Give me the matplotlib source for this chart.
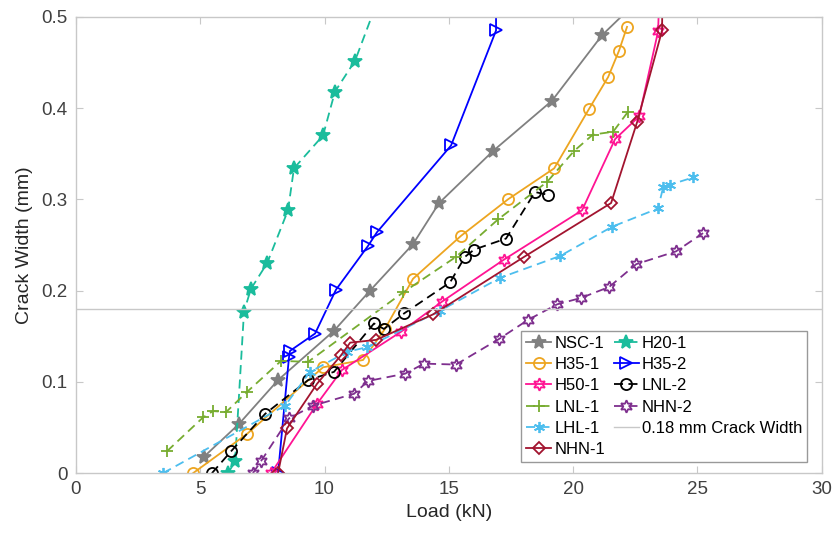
import matplotlib
matplotlib.use("Agg")
import matplotlib.pyplot as plt
import numpy as np

plt.rcParams['font.family'] = ['Liberation Sans', 'DejaVu Sans']

# load (kN) / crack width (mm)
nsc1_x = [5.15, 6.56, 8.13, 10.38, 11.83, 13.56, 14.61, 16.78, 19.15, 21.17, 22.5]
nsc1_y = [0.018, 0.054, 0.102, 0.156, 0.200, 0.251, 0.296, 0.353, 0.408, 0.480, 0.515]

h20_x = [6.12, 6.40, 6.76, 7.04, 7.69, 8.53, 8.77, 9.94, 10.42, 11.23, 12.1]
h20_y = [0.0, 0.013, 0.177, 0.202, 0.230, 0.288, 0.334, 0.370, 0.418, 0.452, 0.515]

h351_x = [4.71, 6.88, 9.94, 11.55, 12.43, 13.56, 15.49, 17.38, 19.24, 20.64, 21.41, 21.85, 22.17]
h351_y = [0.0, 0.043, 0.116, 0.124, 0.158, 0.213, 0.260, 0.300, 0.334, 0.399, 0.434, 0.463, 0.489]

h352_x = [8.13, 8.57, 8.61, 9.62, 10.46, 11.75, 12.11, 15.09, 16.90, 16.90]
h352_y = [0.0, 0.127, 0.134, 0.153, 0.201, 0.249, 0.264, 0.359, 0.485, 0.55]

h50_x = [7.85, 9.70, 10.70, 13.08, 14.73, 17.22, 20.36, 21.69, 22.66, 23.42, 23.5]
h50_y = [0.0, 0.076, 0.113, 0.155, 0.188, 0.234, 0.288, 0.366, 0.391, 0.484, 0.55]

lnl2_x = [5.47, 6.24, 7.61, 9.34, 10.38, 11.99, 12.39, 13.20, 15.05, 15.65, 16.02, 17.30, 18.47, 18.99]
lnl2_y = [0.0, 0.024, 0.065, 0.102, 0.111, 0.164, 0.158, 0.175, 0.209, 0.237, 0.245, 0.257, 0.308, 0.305]

lnl1_x = [3.66, 5.11, 5.51, 6.04, 6.88, 8.25, 9.34, 13.16, 15.29, 16.98, 18.95, 20.04, 20.80, 21.61, 22.21]
lnl1_y = [0.024, 0.061, 0.068, 0.067, 0.089, 0.123, 0.122, 0.198, 0.237, 0.278, 0.319, 0.353, 0.371, 0.374, 0.396]

nhn2_x = [7.12, 7.44, 8.57, 9.54, 11.19, 11.75, 13.24, 14.00, 15.29, 17.02, 18.19, 19.36, 20.32, 21.45,
          22.54, 24.14, 25.23]
nhn2_y = [0.0, 0.013, 0.060, 0.074, 0.087, 0.101, 0.109, 0.120, 0.119, 0.147, 0.168, 0.185, 0.192, 0.204,
          0.229, 0.243, 0.263]

lhl1_x = [3.50, 8.41, 9.42, 10.91, 11.71, 14.65, 17.06, 19.48, 21.57, 23.42, 23.62, 23.90, 24.83]
lhl1_y = [0.0, 0.074, 0.111, 0.133, 0.138, 0.178, 0.214, 0.238, 0.270, 0.290, 0.313, 0.316, 0.324]

nhn1_x = [8.13, 8.49, 9.70, 10.66, 11.03, 12.07, 14.37, 18.03, 21.53, 22.58, 23.58, 23.6]
nhn1_y = [0.0, 0.049, 0.098, 0.129, 0.143, 0.146, 0.174, 0.237, 0.296, 0.385, 0.485, 0.55]

crack_limit = 0.18

hexa = (6, 1, 0)
aster = (6, 2, 0)

series = [
    # label, x, y, color, marker, linestyle, ms, filled
    ("NSC-1", nsc1_x, nsc1_y, "#808080", "*", "-", 10, True),
    ("H20-1", h20_x, h20_y, "#1ABC9C", "*", "--", 10, True),
    ("H35-1", h351_x, h351_y, "#EDA520", "o", "-", 8, False),
    ("H35-2", h352_x, h352_y, "#0000FF", ">", "-", 8, False),
    ("H50-1", h50_x, h50_y, "#FF1493", hexa, "-", 9, False),
    ("LNL-2", lnl2_x, lnl2_y, "#000000", "o", "--", 8, False),
    ("LNL-1", lnl1_x, lnl1_y, "#77AC30", "+", "--", 9, False),
    ("NHN-2", nhn2_x, nhn2_y, "#7E2F8E", hexa, "--", 9, False),
    ("LHL-1", lhl1_x, lhl1_y, "#4DBEEE", aster, "--", 8, False),
    ("NHN-1", nhn1_x, nhn1_y, "#A2142F", "D", "-", 6.5, False),
]

fig = plt.figure(figsize=(8.35, 5.42), dpi=100)
ax = fig.add_axes([0.091, 0.127, 0.893, 0.842])

handles = {}
for label, x, y, c, m, ls, ms, filled in series:
    fc = c if filled else "none"
    kw = dict(color=c, lw=1.3, marker=m, ms=ms, mfc=fc, mec=c, mew=1.3)
    if ls == "--":
        kw["dashes"] = (5, 3)
    h, = ax.plot(x, y, ls, **kw)
    handles[label] = h

lim = ax.axhline(crack_limit, color="#C8C8C8", lw=1.0, label="0.18 mm Crack Width")
handles["0.18 mm Crack Width"] = lim

ax.set_xlim(0, 30)
ax.set_ylim(0, 0.5)
ax.set_xticks(np.arange(0, 31, 5))
ax.set_yticks(np.arange(0, 0.51, 0.1))
ax.set_yticklabels(["0", "0.1", "0.2", "0.3", "0.4", "0.5"])

for s in ax.spines.values():
    s.set_color("#C8C8C8")
    s.set_linewidth(1.0)
ax.tick_params(direction="in", length=5, width=0.8, color="#C8C8C8",
               labelcolor="#404040", labelsize=13.5, top=True, right=True, pad=6)

ax.set_xlabel("Load (kN)", fontsize=14, color="#262626", labelpad=4)
ax.set_ylabel("Crack Width (mm)", fontsize=14, color="#262626", labelpad=6)

order = ["NSC-1", "H35-1", "H50-1", "LNL-1", "LHL-1", "NHN-1",
         "H20-1", "H35-2", "LNL-2", "NHN-2", "0.18 mm Crack Width"]
leg = ax.legend([handles[k] for k in order], order, ncol=2, loc="lower right",
                bbox_to_anchor=(0.981, 0.024), borderaxespad=0, fontsize=12,
                fancybox=False, framealpha=1, edgecolor="#999999",
                handlelength=1.5, handletextpad=0.2, columnspacing=0.5,
                labelspacing=0.38, borderpad=0.3)
leg.get_frame().set_linewidth(1.0)

fig.savefig("out.png", dpi=100)
